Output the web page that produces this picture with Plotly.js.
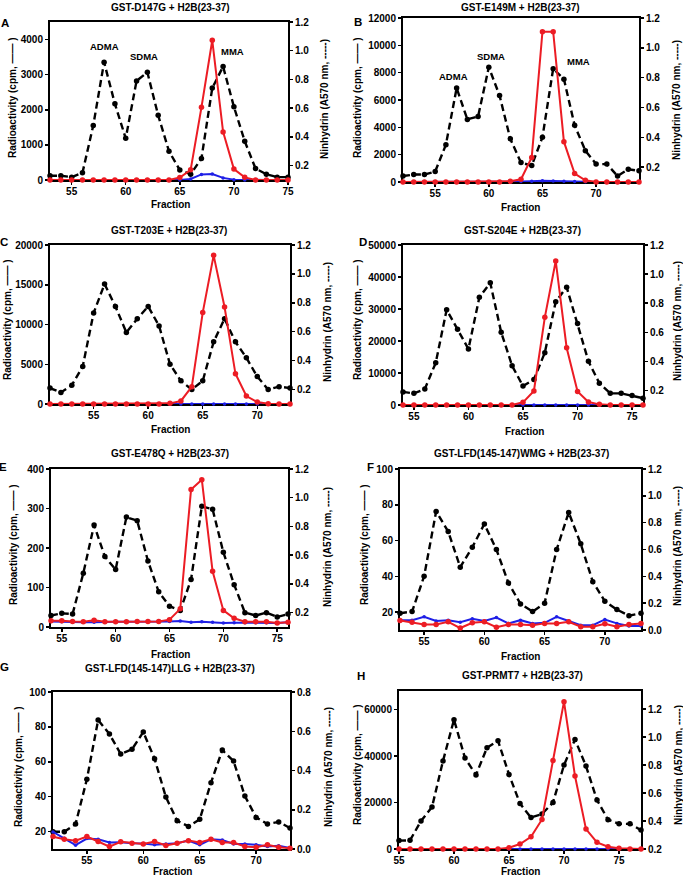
<!DOCTYPE html>
<html><head><meta charset="utf-8">
<script src="https://cdn.plot.ly/plotly-3.0.1.min.js"></script>
<style>html,body{margin:0;padding:0;background:#fff}</style>
</head><body><div id="chart" style="width:683px;height:877px"></div>
<script>
// ---------------- DATA ----------------
const aFraction = [53,54,55,56,57,58,59,60,61,62,63,64,65,66,67,68,69,70,71,72,73,74,75];
const aNinhydrin = [0.13,0.13,0.12,0.15,0.48,0.92,0.63,0.39,0.79,0.85,0.55,0.30,0.17,0.14,0.25,0.74,0.89,0.61,0.37,0.18,0.14,0.12,0.12];
const aRed = [0,0,0,0,0,0,0,0,0,0,0,0,70,290,2070,3980,1370,310,75,0,0,0,0];
const aBlue = [0,0,0,0,0,0,0,0,0,0,0,0,0,30,160,170,60,10,0,0,0,0,0];

const bFraction = [52,53,54,55,56,57,58,59,60,61,62,63,64,65,66,67,68,69,70,71,72,73,74];
const bNinhydrin = [0.14,0.15,0.15,0.17,0.35,0.73,0.52,0.54,0.87,0.68,0.39,0.23,0.21,0.40,0.86,0.79,0.48,0.31,0.22,0.22,0.14,0.185,0.175];
const bRed = [0,0,0,0,0,0,0,0,0,0,50,200,1800,11000,11000,2950,620,120,0,0,0,0,0];
const bBlue = [0,0,0,0,0,0,0,0,0,0,0,30,60,100,80,50,30,10,0,0,0,0,0];

const cFraction = [51,52,53,54,55,56,57,58,59,60,61,62,63,64,65,66,67,68,69,70,71,72,73];
const cNinhydrin = [0.21,0.18,0.23,0.36,0.73,0.93,0.775,0.595,0.69,0.775,0.64,0.375,0.26,0.20,0.26,0.53,0.69,0.53,0.42,0.29,0.20,0.22,0.21];
const cRed = [0,0,0,0,0,0,0,0,0,0,0,80,380,2180,11500,18700,12200,3800,1000,250,40,0,0];
const cBlue = [0,0,0,0,0,0,0,0,0,0,0,0,0,0,0,0,0,0,0,0,0,0,0];

const dFraction = [54,55,56,57,58,59,60,61,62,63,64,65,66,67,68,69,70,71,72,73,74,75,76];
const dNinhydrin = [0.19,0.18,0.21,0.39,0.755,0.62,0.485,0.84,0.94,0.60,0.37,0.23,0.275,0.46,0.81,0.91,0.66,0.40,0.25,0.18,0.18,0.165,0.147];
const dRed = [0,0,0,0,0,0,0,0,0,0,0,830,4400,27400,45000,17900,4200,940,200,0,0,0,0];
const dBlue = [0,0,0,0,0,0,0,0,0,0,0,0,0,0,0,0,0,0,0,0,0,0,0];

const eFraction = [54,55,56,57,58,59,60,61,62,63,64,65,66,67,68,69,70,71,72,73,74,75,76];
const eNinhydrin = [0.18,0.195,0.19,0.475,0.81,0.59,0.50,0.865,0.84,0.56,0.345,0.245,0.215,0.43,0.94,0.92,0.62,0.395,0.20,0.18,0.20,0.17,0.19];
const eRed = [16,16,14,13.5,17,13.5,13.5,13.5,14,14,14,18.5,46,348,373,141,42,22,13.5,13.5,13.5,10,12];
const eBlue = [14,13,12,12,12,13,13,13,13,13,13,14,15,12,13,12,10,11,11,11,11,10,12];

const fFraction = [53,54,55,56,57,58,59,60,61,62,63,64,65,66,67,68,69,70,71,72,73];
const fNinhydrin = [0.125,0.137,0.40,0.884,0.734,0.468,0.617,0.79,0.60,0.35,0.194,0.137,0.20,0.60,0.876,0.642,0.36,0.214,0.152,0.107,0.125];
const fRed = [15.3,14.4,13.1,13.1,14.6,11.1,14.0,14.6,11.6,13.1,13.1,12.6,13.7,13.7,14.6,11.8,11.8,13.5,11.8,13.1,13.7];
const fBlue = [15.5,15.5,17.4,15.0,15.5,14.4,16.3,15.0,17.0,13.7,15.5,13.7,14.0,17.4,15.0,12.7,12.7,15.9,13.7,12.2,12.2];

const gFraction = [52,53,54,55,56,57,58,59,60,61,62,63,64,65,66,67,68,69,70,71,72,73];
const gNinhydrin = [0.088,0.088,0.127,0.355,0.657,0.586,0.484,0.508,0.596,0.46,0.265,0.144,0.115,0.151,0.338,0.504,0.448,0.27,0.161,0.127,0.138,0.107];
const gRed = [17.1,15.6,14.8,17.1,14.3,11.4,14.1,13.3,12.9,14.3,12.0,13.3,14.8,13.7,15.6,13.7,13.7,11.4,11.0,12.4,11.0,10.5];
const gBlue = [19.8,16.2,12.2,16.0,15.6,13.7,13.9,13.3,13.1,12.4,12.9,13.3,14.8,12.4,15.6,15.2,12.9,12.9,12.4,11.4,11.8,10.5];

const hFraction = [55,56,57,58,59,60,61,62,63,64,65,66,67,68,69,70,71,72,73,74,75,76,77];
const hNinhydrin = [0.26,0.262,0.40,0.50,0.83,1.125,0.85,0.73,0.925,0.975,0.733,0.525,0.425,0.45,0.533,0.80,0.983,0.793,0.55,0.41,0.38,0.38,0.335];
const hRed = [0,0,0,0,0,0,0,0,0,0,570,2140,5290,12700,38100,63400,31400,8570,2860,1000,290,0,0];
const hBlue = [0,0,0,0,0,0,0,0,0,0,0,0,0,0,0,0,0,0,0,0,0,0,0];

const rightTicks12 = [0.2,0.4,0.6,0.8,1.0,1.2];
const rightTicks012 = [0.0,0.2,0.4,0.6,0.8,1.0,1.2];
const rightTicks008 = [0.0,0.2,0.4,0.6,0.8];

const titles = ['GST-D147G + H2B(23-37)','GST-E149M + H2B(23-37)','GST-T203E + H2B(23-37)','GST-S204E + H2B(23-37)',
  'GST-E478Q + H2B(23-37)','GST-LFD(145-147)WMG + H2B(23-37)','GST-LFD(145-147)LLG + H2B(23-37)','GST-PRMT7 + H2B(23-37)'];
const letters = ['A','B','C','D','E','F','G','H'];
const xTitle = 'Fraction';
const leftTitle = 'Radioactivity (cpm, —— )';
const rightTitle = 'Ninhydrin (A570 nm, -----)';

// ---------------- LAYOUT ----------------
const W = 683, H = 877;
const FONT = 'Liberation Sans, Arial, Helvetica, sans-serif';
const panels = [
 {frac:aFraction,nin:aNinhydrin,red:aRed,blue:aBlue,box:[50,22,288,180],xr:[53,75],lr:[0,4500],ld:1000,rr:[0.1,1.2],rt:rightTicks12,
  tp:[170,7],lp:[5,23],fp:[170,205],ltp:[12,98],rtp:[325,99]},
 {frac:bFraction,nin:bNinhydrin,red:bRed,blue:bBlue,box:[403,18,639,182],xr:[52,74],lr:[0,12000],ld:2000,rr:[0.1,1.2],rt:rightTicks12,
  tp:[520,7],lp:[358,22],fp:[520,208],ltp:[357,98],rtp:[676,100]},
 {frac:cFraction,nin:cNinhydrin,red:cRed,blue:cBlue,box:[50,245,290,404],xr:[51,73],lr:[0,20000],ld:5000,rr:[0.1,1.2],rt:rightTicks12,
  tp:[169,230],lp:[4,242],fp:[170,430],ltp:[7,320],rtp:[328,322]},
 {frac:dFraction,nin:dNinhydrin,red:dRed,blue:dBlue,box:[403,245,643,405],xr:[54,76],lr:[0,50000],ld:10000,rr:[0.1,1.2],rt:rightTicks12,
  tp:[522,230],lp:[363,242],fp:[524,431],ltp:[357,320],rtp:[678,321]},
 {frac:eFraction,nin:eNinhydrin,red:eRed,blue:eBlue,box:[51,469,288,627],xr:[54,76],lr:[0,400],ld:100,rr:[0.1,1.2],rt:rightTicks12,
  tp:[170,453],lp:[3,467],fp:[170,654],ltp:[13,545],rtp:[327,547]},
 {frac:fFraction,nin:fNinhydrin,red:fRed,blue:fBlue,box:[400,469,641,630],xr:[53,73],lr:[10,100],ld:20,rr:[0,1.2],rt:rightTicks012,
  tp:[521,453],lp:[370,467],fp:[520,656],ltp:[364,545],rtp:[677,546]},
 {frac:gFraction,nin:gNinhydrin,red:gRed,blue:gBlue,box:[53,692,290,849],xr:[52,73],lr:[10,100],ld:20,rr:[0,0.8],rt:rightTicks008,
  tp:[170,668],lp:[4,667],fp:[172,871],ltp:[18,767],rtp:[328,767]},
 {frac:hFraction,nin:hNinhydrin,red:hRed,blue:hBlue,box:[399,691,641,849],xr:[55,77],lr:[0,68000],ld:20000,rr:[0.2,1.33],rt:rightTicks12,
  tp:[522,675],lp:[361,676],fp:[520,871],ltp:[357,765],rtp:[678,765]}
];

const tickFont = {family:FONT,size:10,color:'#000',weight:'bold'};
const axisStyle = {showline:true,linecolor:'#000',linewidth:2,ticks:'outside',ticklen:3,tickwidth:1.5,tickcolor:'#000',
  showgrid:false,zeroline:false,tickfont:tickFont,fixedrange:true,layer:'below traces',tickformat:'d',exponentformat:'none'};

const traces = [];
const layout = {width:W,height:H,margin:{l:0,r:0,t:0,b:0,pad:0},showlegend:false,paper_bgcolor:'#fff',plot_bgcolor:'rgba(0,0,0,0)',
  font:{family:FONT,size:10,color:'#000'},annotations:[]};
const px = x => x/W, py = y => 1 - y/H;
function ann(text,x,y,size,angle){
  layout.annotations.push({text:text,xref:'paper',yref:'paper',x:px(x),y:py(y),xanchor:'center',yanchor:'middle',showarrow:false,
    borderpad:0,textangle:angle||0,font:{family:FONT,size:size,color:'#000',weight:'bold'}});
}

panels.forEach((p,i)=>{
  const n=i+1;
  const xa = n===1?'x':'x'+n;
  const yb = 2*n-1, yo = 2*n;
  const ybName = yb===1?'y':'y'+yb, yoName='y'+yo;
  const b = p.box;
  layout[n===1?'xaxis':'xaxis'+n] = Object.assign({},axisStyle,{domain:[px(b[0]),px(b[2])],anchor:ybName,range:p.xr,tick0:0,dtick:5,mirror:true,ticklabelstandoff:-2});
  layout[yb===1?'yaxis':'yaxis'+yb] = Object.assign({},axisStyle,{domain:[py(b[3]),py(b[1])],anchor:xa,side:'right',range:p.rr,
     tickmode:'array',tickvals:p.rt,ticktext:p.rt.map(v=>v.toFixed(1))});
  layout['yaxis'+yo] = Object.assign({},axisStyle,{anchor:xa,overlaying:ybName,side:'left',range:p.lr,tick0:0,dtick:p.ld});
  traces.push({type:'scatter',x:p.frac,y:p.nin,xaxis:xa,yaxis:ybName,mode:'lines+markers',cliponaxis:false,
    line:{color:'#000',width:2.4,dash:'7px,4px'},marker:{size:5.5,color:'#000'},hoverinfo:'skip'});
  traces.push({type:'scatter',x:p.frac,y:p.blue,xaxis:xa,yaxis:yoName,mode:'lines+markers',cliponaxis:false,
    line:{color:'#1f1fe6',width:2},marker:{size:3.5,color:'#1f1fe6'},hoverinfo:'skip'});
  traces.push({type:'scatter',x:p.frac,y:p.red,xaxis:xa,yaxis:yoName,mode:'lines+markers',cliponaxis:false,
    line:{color:'#ec1c24',width:2},marker:{size:5.5,color:'#ec1c24'},hoverinfo:'skip'});
  ann(titles[i],p.tp[0],p.tp[1],10);
  ann(letters[i],p.lp[0],p.lp[1],11.5);
  ann(xTitle,p.fp[0],p.fp[1],10);
  ann(leftTitle,p.ltp[0],p.ltp[1],10,-90);
  ann(rightTitle,p.rtp[0],p.rtp[1],10,-90);
});

// peak labels
ann('ADMA',104,46,9.5); ann('SDMA',144,57,9.5); ann('MMA',232,52,9.5);
ann('ADMA',453,76,9.5); ann('SDMA',491,57,9.5); ann('MMA',578,61,9.5);

Plotly.newPlot('chart',traces,layout,{staticPlot:true,displayModeBar:false});
</script></body></html>
